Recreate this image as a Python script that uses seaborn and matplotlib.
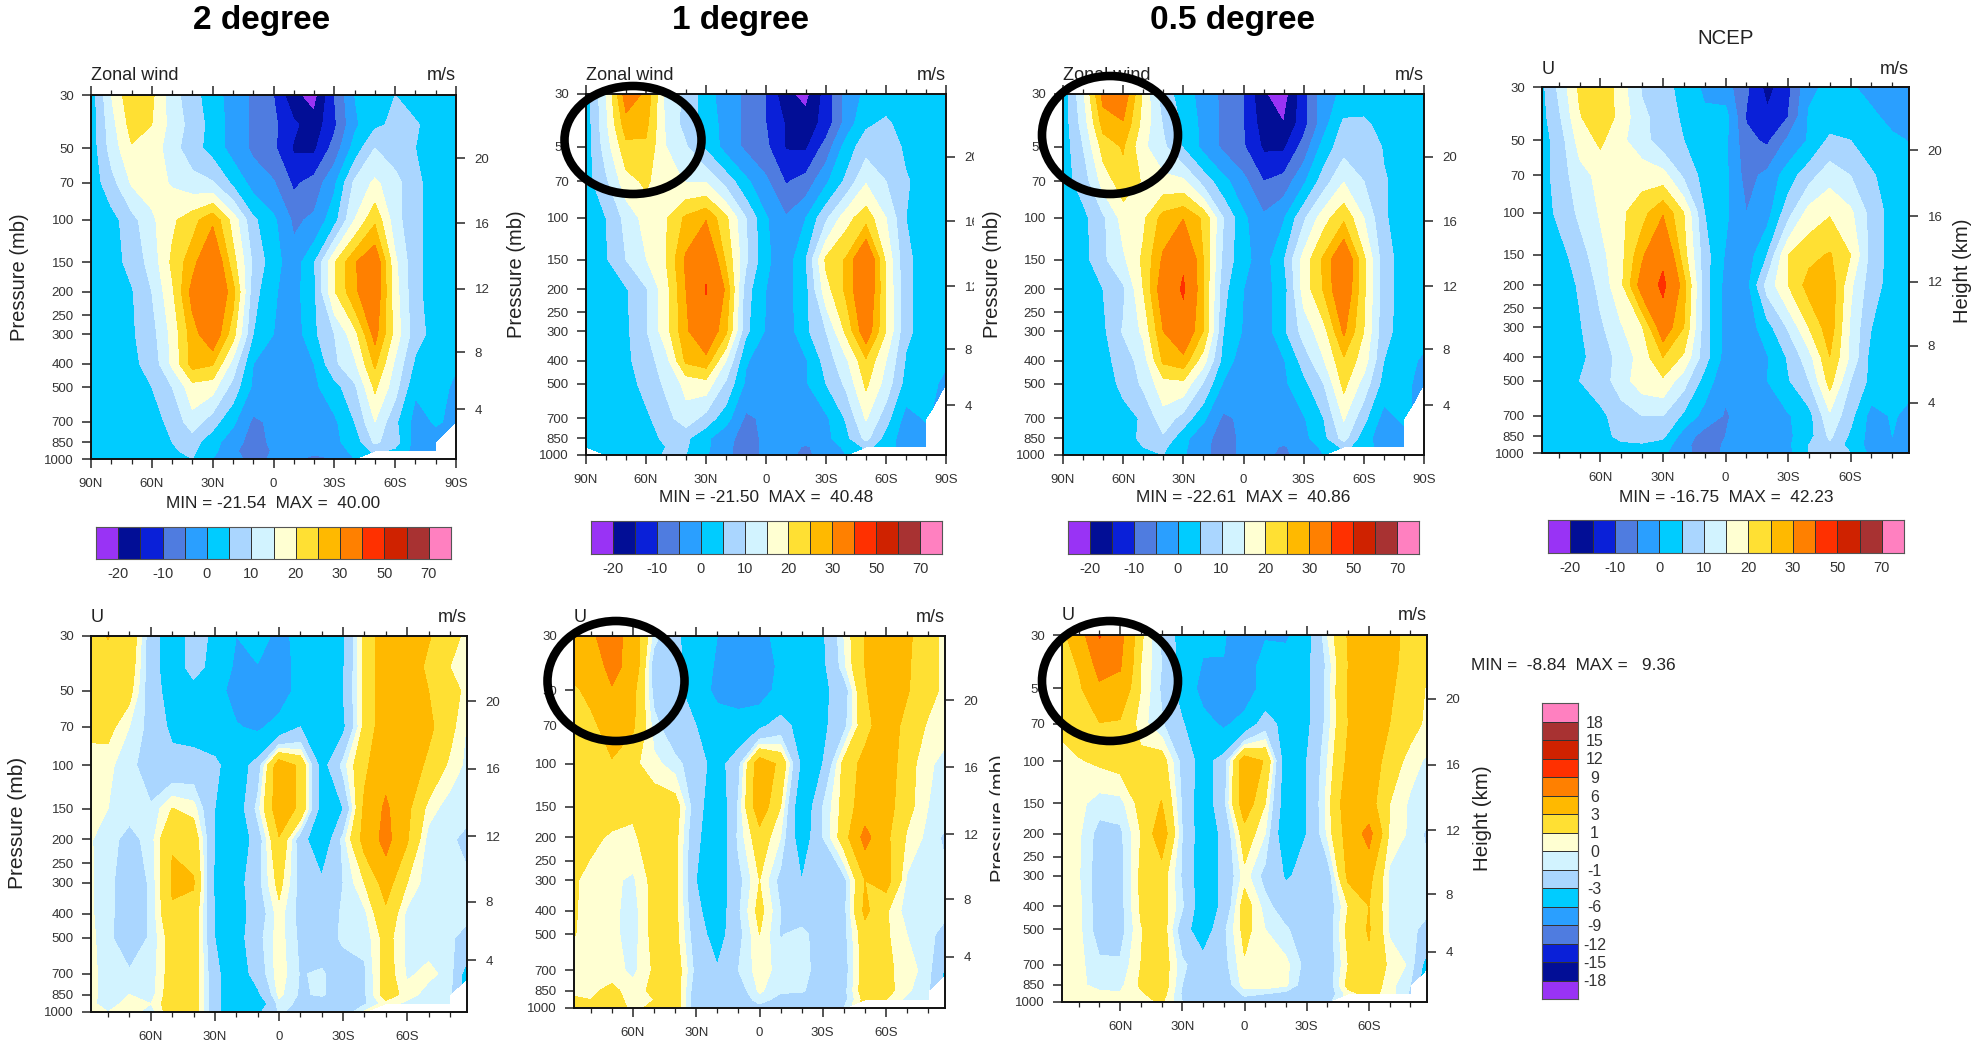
import numpy as np
import seaborn as sns
import matplotlib.pyplot as plt
from matplotlib.colors import ListedColormap
from matplotlib.patches import Ellipse
from matplotlib.ticker import NullLocator
from matplotlib.transforms import Bbox

W, H = 1988, 1045
n = float("nan")

lats = [90, 80, 70, 60, 50, 40, 30, 20, 10, 0, -10, -20, -30, -40, -50, -60, -70, -80, -90]
pressure = [30, 40, 50, 70, 100, 150, 200, 300, 400, 500, 700, 850, 925, 1000]

wind_2deg = [
    [2, 15, 24, 21, 12, 7, 2, -2, -6, -10, -19, -22, -10, 0, 5, 5, 3, 2, 1],
    [2, 13, 22, 20, 13, 8, 3, -2, -6, -9, -14, -18, -11, -1, 4, 6, 5.5, 3, 2],
    [2, 12, 19.5, 18, 12, 7, 3, -2, -6, -9, -15.6, -16, -8, 2, 10, 7, 5, 3, 2],
    [2, 8, 15.5, 17, 14.5, 12, 10.5, 4, -2, -4.5, -11, -8, -1, 11, 16, 12, 6, 3, 2],
    [1, 3, 8, 14, 19, 23, 29, 18, 6, 1, -6, -4, 3, 15, 24, 12, 6, 3, 2],
    [1, 3, 6.5, 12, 21, 28, 37, 22, 9, 2, -3, 4.5, 19.5, 29.5, 35, 16, 6, 3, 2],
    [1, 3, 4.5, 10, 19, 32, 38, 27, 7, 0.5, -2, 4, 19.5, 29, 35, 17, 6, 3, 2],
    [1, 3, 4.3, 8, 16.5, 27.5, 35, 22, 5, 0, -3, 4, 10, 18, 32, 18, 7, 3, 2],
    [1, 2.5, 4, 6.5, 16, 27, 25.5, 13, 0, -3, -3, 0, 9, 14, 26, 14, 4, 2, 0.5],
    [1, 2, 3, 5, 10, 18, 17, 8, -1, -4, -4, -1, 3, 9, 21, 12, 0.8, 2, -1],
    [2, 2, 2.5, 3.5, 6, 13, 7, 1, -6, -4, -3, -2, -1, 5, 15, 6, -2, 0.5, -1],
    [2, 2, 2, 3, 5, 7, 2, -3, -7, -4, -3, -3, -1, 2, 11, 7, -2, -2, n],
    [2, 2, 2, 3, 4.5, 6, 1, -3, -10.6, -4, -3, -4, -2, 1, 6, 4, -2, -2, n],
    [2, 2, 2, 3, 5, 5, 0, -3, -7, -4, -4.5, -6, -5, 0, n, n, n, n, n],
]

wind_1deg = [
    [2, 14.5, 33, 29, 13, 9, 2, -2.5, -6, -10, -19, -21.5, -13, -3, 1, 2, 2, 2, 2],
    [2, 14, 28, 26.5, 14, 8, 3, -2, -6, -10, -15.5, -18, -13, -3, 4, 6, 2.5, 2, 2],
    [2, 12.5, 23.5, 24, 15, 10.5, 4, -2, -6, -9, -15.4, -15.8, -8, 2, 8, 8, 4, 2, 2],
    [3, 9, 18, 21, 16, 14.8, 14.5, 8, 1, -4, -10.5, -8, -1, 6, 14.5, 10, 5.5, 3, 2],
    [1, 5, 11.5, 17, 19.5, 26, 29.5, 21, 10, 0.5, -4.5, 0, 9, 18, 23, 15, 5, 3, 2],
    [1, 4.5, 10, 14.8, 20, 31, 38, 24, 11, 1, -3, 5, 21, 25.5, 38, 19, 6, 3, 2],
    [1, 2.5, 4.5, 9.5, 18, 30, 40.5, 29, 7, 0, -2, 3.5, 18, 26, 37, 20, 6, 3, 2],
    [1, 2.5, 4, 9.5, 18, 29, 36, 26, 6, -0.5, -3, 4, 10, 21, 34, 20, 6, 3, 2],
    [1, 2.5, 4, 7.5, 13, 26, 28, 15, 0.5, -3, -3, -0.5, 7, 14, 24, 15, 4.5, 2, 0.5],
    [1, 2, 3, 6.5, 11, 16.5, 18, 9, -1, -4, -4, -0.5, 5, 11, 21, 13, 3, 1.5, -1],
    [2, 2, 2.5, 4, 8, 13, 8, 2, -6, -4, -3, -2, -1, 5.5, 15.5, 7, -2, 0.5, n],
    [2, 2, 2, 3, 6, 6, 1, -3.5, -7, -4, -3, -3, -1.5, 3.5, 11.5, 3, -3, -2, n],
    [2, 2, 2, 3, 5, 5.5, 1, -4, -7, -4, -3.5, -5.5, -3, 1, 6, 3, -3, -3, n],
    [n, 2, 2, 3, 5.5, 5, 0.5, -4, -7, -4, -4.5, -5.5, -4, 0, n, n, n, n, n],
]

wind_05deg = [
    [2, 14, 32, 34, 19, 7, 3, -2.5, -6, -10, -19.5, -22.6, -12, -2, 1, 2, 2, 2, 2],
    [2, 12, 27, 29.5, 18, 9.5, 4, -1.5, -6, -10, -17.5, -19.9, -12, -2, 6, 6, 3, 2, 2],
    [2, 10, 22, 25.5, 16, 11, 4.5, -1.5, -6, -9.5, -15.8, -16, -8, 2, 8, 9, 4.5, 2.5, 2],
    [3, 7, 17, 23, 19.5, 16.5, 16, 8, 1.5, -3.5, -10, -8, -1, 7.5, 14.8, 10, 5.5, 3, 2],
    [1, 3.5, 9, 17, 19, 27, 29.8, 24, 10, 1, -4, -0.5, 9, 18, 24, 15, 5.5, 3, 2],
    [1, 3, 9, 14, 21, 31, 39, 25, 8.5, 1.5, -2.5, 4.5, 17, 26, 37, 21, 7, 3, 2],
    [1, 2.5, 5, 9, 20, 34, 41, 25, 6.5, 0, -2, 2.5, 17, 25.5, 36, 21, 7, 3, 2],
    [1, 2.5, 4, 10.5, 16, 30, 36, 25, 5, -0.5, -3, 4, 12, 18, 31, 20, 6.5, 3, 2],
    [1, 2.5, 3.5, 7, 12.5, 26, 28, 17, 3, -3, -3, -0.5, 7, 14.7, 24, 17.5, 5, 2, -1],
    [1, 2, 3, 6, 11, 18, 18.5, 9.5, -0.5, -4, -4, -1, 3.5, 10, 21.5, 13, 3, 1, -1.5],
    [2, 2, 2.5, 3.5, 5.5, 13, 8, 1, -6, -4, -3, -2, -0.5, 5, 15.5, 6.5, -2, 1, n],
    [2, 2, 2, 3, 6, 9, 1.5, -3.5, -7, -4, -3, -3, -1.5, 3.5, 12, 2, -3, -2, n],
    [2, 2, 2, 3, 5, 6, 1, -4, -7, -4, -3.5, -5.5, -3, 1, 6, 3, -3, -3, n],
    [2, 2, 2, 3, 5, 5, 0.5, -4, -7, -4, -4.5, -5.5, -4, 0, n, n, n, n, n],
]

wind_ncep = [
    [2, 11, 21, 25, 17, 9.5, 7, 3, -1, -3, -9, -16.75, -11.5, -1, 1, 0.5, -1.5, -2, -2],
    [2, 9, 19.5, 24, 18, 11, 8, 4, 1, 2, -10.5, -14, -10, 0.5, 2.5, 2, 1, -1.5, -2.5],
    [2, 7, 17, 21, 16, 12, 7, 5, 2.5, 1, -8.5, -11, -4, 0.5, 6, 5, 3, 1, -0.5],
    [2, 7, 13, 16.5, 18, 18, 17, 9, 3, 1, -7, -3.5, 2.5, 8, 13, 10, 5.5, 3, 1],
    [2, 6, 11, 15.5, 19, 23, 29.5, 20, 5, 1, -5, -2, 8, 17, 19.5, 16, 8, 3, 1],
    [1, 3, 7.5, 13.5, 18.5, 29, 38, 22, 7, -0.5, -3, 5, 20, 23.5, 25.5, 20, 8, 3, 1],
    [1, 2.5, 5.5, 11.5, 19, 33, 42, 27, 7, -1.5, -2, 12, 20, 27, 28.5, 16, 7, 3, 1],
    [1, 2.5, 4.5, 9, 14.5, 19.5, 34, 25, 7, -1.5, -3, 3, 10.5, 20, 28, 14, 5, 3, 1],
    [1, 2.5, 4, 7, 12, 17, 25, 19, 7, -2, -3, -0.5, 5.5, 13, 24.9, 14, 3, 2, 1],
    [1, 2, 5, 7, 13, 17.5, 19, 12, 3, -4, -3, 0, 4.5, 10, 22, 10, 3.5, 2, 1],
    [1, 1, 3, 4, 7, 10, 10, 4, -2, -5.5, -3, -2, -0.5, 3, 14, 6.5, -2, 0.5, -1.5],
    [2, 2, 2, 3, 6.5, 7, 6, -2.5, -7, -5, -3, -2.5, -1, 3, 11, 4, -2, 0, -2],
    [2, 2, 2, 2.5, 4, 4.5, 3, -4, -7, -4.5, -3, -3, -1, 5, 9, 3, -2, 0, -2],
    [2, 2, 2, 2, 3, 3, 1, -4, -6.5, -4.5, -3, -3, -1.5, 5, 7, 5, -1.5, 0, -2],
]

diff_2deg = [
    [2.5, 3.05, 2.5, -2, -4.5, -2, -3.5, -6, -4.5, -7, -5, -4, -3.3, 1.5, 4.5, 4.5, 3.2, 1.5, 0.5],
    [2.5, 2.5, 2, -2, -4.5, -2, -4, -6.5, -6.2, -7.5, -5, -4, -3.2, 1.5, 4.5, 4.5, 2.5, 1, 0.5],
    [2, 2, 1.5, -2, -4, -4, -5, -7, -7.5, -7.5, -5, -4, -3, 1.5, 4.5, 4.5, 3, 1.5, 0.5],
    [1.3, 1.5, 0, -1.5, -3.5, -4, -4.5, -5.8, -6.5, -5, -3, -4, -3.5, 1.5, 4.5, 4.5, 3.5, 1.5, -0.5],
    [0.5, 0.2, -0.5, -2, -2.2, -2, -2.5, -4.5, -2, 4.5, 2.5, -4, -0.5, 2.5, 5, 4.5, 2.5, 0.7, -0.5],
    [0.3, 0, -0.5, -0.8, 1.05, 0.5, -3, -4.5, -0.5, 4.5, 2.5, -4, -3, 3.5, 6.5, 3.5, 0.5, -0.6, -0.7],
    [0.2, -0.5, -1.5, -0.5, 2.9, 2.2, -3, -4.8, -2, 2.8, -2, -5, -0.5, 3.8, 7, 3.2, -0.5, -0.8, -1.5],
    [0.3, -0.6, -2, -0.8, 3.2, 3.2, -3.5, -4, -1.5, 1.5, -1.5, -2.5, -1, 1, 4, 1, -0.7, -0.7, -0.9],
    [0.3, -0.6, -2, -0.8, 2.8, 2.2, -3, -4, -2, 0.5, -1.5, -2, -0.8, -0.3, 2.5, -0.3, -0.7, -0.7, -0.7],
    [0.5, -0.7, -2, -0.8, 1.8, 2.2, -3, -4, -1.5, 0.5, -1.3, -2, -0.7, -0.7, 1.6, -0.2, -0.5, -0.7, -2],
    [0.5, -0.5, -0.8, -0.6, 1.8, 2.2, -2.5, -4.5, -2, 0.6, -1.1, -0.8, -2, -1.2, 1.8, -0.2, 0.3, -0.4, -5],
    [0.5, -0.5, 0, -0.5, 2, 2.2, -2.5, -4.5, -3.5, 0.3, -1.2, -0.8, -2, -1.2, 1.8, 0.5, -0.5, -0.7, n],
    [0.5, -0.6, 0.5, 0, 2, 2.2, -2.5, -4.5, -5, -0.5, -1.3, -2, -2, -1.2, 0.5, -0.3, -0.5, -0.7, n],
    [0.5, 0, 0.5, -0.5, 2, 2.2, -2.5, -4.5, -3.5, -0.8, -1.5, -2, -2, 0.2, n, n, n, n, n],
]

diff_1deg = [
    [4, 5.5, 7.5, 4.5, -0.5, -2.5, -4.5, -6, -6.5, -7.5, -4.5, -4, -3.3, 0, 3, 4.5, 3.5, 1.5, 0.5],
    [3.5, 4.5, 6.8, 5, -2, -2.5, -4, -6.5, -6.8, -7.5, -5.5, -4, -3.5, -0.3, 3, 4.5, 3.3, 1.5, 0.5],
    [2.5, 3.5, 5.8, 3.7, -1.5, -2, -5, -6.5, -7, -7.5, -5, -4, -3.5, -2, 2.8, 4.5, 3.2, 1.5, 0.5],
    [2, 2.5, 4, 3.3, -0.5, -2.3, -3, -5, -5, -3.5, -2, -4, -3.5, -1.5, 2.2, 4.5, 2.2, 0.8, 0.3],
    [2, 2.3, 2.8, 1.3, 0.3, -0.5, -2, -4, -1.5, 4.5, 2.5, -3.5, -3, 1.5, 3.8, 4.5, 1.6, 0.2, -0.5],
    [2, 2, 2, 1.2, 2, 1.8, -2, -5, -0.8, 4.5, 1, -5, -1, 1.5, 4.5, 4, 1.5, 0, -0.5],
    [2, 1.5, 0.7, 0.8, 1.7, 1.5, -2.5, -5, -0.7, 2, 0, -4.5, -1, 1.8, 7, 3.5, 0.8, -0.3, -1.5],
    [1.5, 0.3, 0.2, -0.2, 1.5, 1.6, -3, -4.5, -1.5, 1, -1.5, -3, -2.5, -1.5, 3, 4, -0.2, -0.6, -1],
    [1.3, 0.5, 0.3, -0.5, 1.5, 1.5, -2.5, -4.5, -1.2, 1.5, -1, -2, -2, -1.5, 3.5, 1.2, -0.5, -0.8, -0.8],
    [1.2, 0.5, 0.3, -0.5, 1.5, 1.5, -2, -4, -1.5, 1, -1.1, -0.5, -2, -1.5, 2, 1.2, 0, -0.5, -2],
    [0.5, 0.5, 0.5, -0.3, 1.2, 2, -1.5, -2.8, -1, 0.5, -0.4, -0.3, -2, -1.8, 2, 1.3, 0.5, -0.5, -4],
    [0.8, 0.8, 1.3, 0.5, 1.3, 2, -2, -2.3, -1.8, 0.2, -0.8, -0.8, -2, -1.5, 2, 1.5, 0.2, -0.8, n],
    [1.2, 1, 1.5, 0.6, 1, 2, -2, -2.5, -2, -0.5, -1.5, -2, -2, -1.5, 1.5, 1, -0.3, -1, n],
    [1.3, 1.2, 1.5, 0.8, 1.2, 2, -2, -2.5, -2, -1.5, -2, -2, -2, -1, n, n, n, n, n],
]

diff_05deg = [
    [2, 4.5, 9.2, 7, 1.3, -1.2, -4, -5.5, -5.8, -7.5, -6.2, -6.5, -4, 0, 3.2, 4.5, 4, 2, 1],
    [1.5, 3.2, 7, 6.3, 1, -1, -4, -6.2, -6.1, -7.5, -5, -4.5, -3.5, -0.7, 3, 4.5, 3.8, 1.8, 0.8],
    [1.3, 2.5, 5.5, 5, 1, -1.2, -4, -7, -7.8, -7.5, -5, -4, -3.5, -0.5, 3.2, 4.5, 3.4, 1.7, 0.7],
    [1.2, 1.7, 2.9, 2.7, 0.4, -0.8, -2.8, -5, -6.5, -5, -1.8, -4, -3.5, -0.5, 3, 4.5, 3, 1.6, 0.5],
    [0.5, 0.9, 1.2, 1.5, 1.5, 1.8, -1.5, -4, -2, 4.5, 2.8, -4.5, -3, 0, 3.5, 4.5, 2, 0.4, -0.3],
    [0.4, 0.3, -0.5, -0.4, 1.5, 3.1, -1.2, -4.5, -1.5, 4.5, 1, -4.5, -3, 0.4, 4.5, 4, 1, -0.2, -0.5],
    [0.4, 0.2, -1.5, -1.3, 1, 4.5, -1, -4.5, -2.5, 2, 0, -5, -3, 0.2, 4, 7, 0.7, -0.2, -1.5],
    [0.3, 0.1, -1.7, -1.5, 1.3, 1.8, -1.2, -4.5, -2.5, 0.5, -1.5, -3.2, -2.5, -2, 3.5, 3.7, -0.3, -0.8, -1],
    [0.5, 0.3, -1.7, -1.5, 1.2, 1.8, -0.8, -4.5, -2.5, 1.8, -0.5, -2, -2, -2, 1, 3, -0.2, -0.7, -0.7],
    [0.5, 0.3, -1.7, -1.6, 0.9, 2, -2, -4.5, -1.3, 1.5, 0, -0.8, -2, -2, 1.5, 3.2, -0.2, -0.5, -2],
    [0.5, 0.3, -0.7, -0.8, 1, 2, -0.7, -2, -1.5, 0.8, 0.5, 0.3, -1.5, -2, 1, 2.5, 0.7, -0.2, -5],
    [0.6, 0.2, -0.3, -0.3, 1.2, 2, -1, -2.5, -2, 0.5, 0.7, 0.2, -2, -2, 1.5, 2, 0.4, -1, n],
    [1, 0.5, 0.2, 0.1, 0.8, 1.7, -1.2, -2.5, -2, -0.8, -1, -1.5, -2, -2, 0.5, 1.5, 0.5, -1.2, n],
    [1, 0.6, 0.3, 0.3, 0.5, 1.2, -1, -2.5, -2.2, -1.5, -1.3, -1.5, -2, -1.5, n, n, n, n, n],
]

wind_levels = [-20, -15, -10, -5, 0, 5, 10, 15, 20, 25, 30, 40, 50, 60, 70]
diff_levels = [-18, -15, -12, -9, -6, -3, -1, 0, 1, 3, 6, 9, 12, 15, 18]
wind_bar_labels = ["-20", "-10", "0", "10", "20", "30", "50", "70"]
diff_bar_labels = ["18", "15", "12", "9", "6", "3", "1", "0", "-1", "-3", "-6", "-9", "-12", "-15", "-18"]
band_colors = ["#9933f5", "#020e96", "#0a20d8", "#4f7ce0", "#2a9fff", "#00ccff", "#aad6ff", "#d2f3ff",
               "#ffffd2", "#ffe033", "#ffb900", "#ff8000", "#ff3000", "#cf2200", "#a83232", "#ff80c0"]

p_ticks = [30, 50, 70, 100, 150, 200, 250, 300, 400, 500, 700, 850, 1000]
height_ticks = [4, 8, 12, 16, 20]
height_at_p = [618, 358, 194, 103.4, 55.1]
lat_ticks = [90, 60, 30, 0, -30, -60, -90]
lat_labels = ["90N", "60N", "30N", "0", "30S", "60S", "90S"]

# pixel boxes: left, top, right, bottom
panels = [
    dict(data=wind_2deg, box=(91, 95, 456, 459), levels=wind_levels, lim=90, name="Zonal wind", name_y=76,
         ylabel=(20, 277, 14.5), stats=("MIN = -21.54  MAX =  40.00", 273, 503), bar=(96, 527, 451, 559)),
    dict(data=wind_1deg, box=(586, 94, 946, 455), levels=wind_levels, lim=90, name="Zonal wind", name_y=76,
         ylabel=(516, 274, 14.5), stats=("MIN = -21.50  MAX =  40.48", 766, 497), bar=(591, 521, 942, 554), clip_right=974),
    dict(data=wind_05deg, box=(1063, 94, 1424, 455), levels=wind_levels, lim=90, name="Zonal wind", name_y=76,
         ylabel=(993, 274, 14.5), stats=("MIN = -22.61  MAX =  40.86", 1243, 497), bar=(1068, 521, 1419, 554)),
    dict(data=wind_ncep, box=(1542, 87, 1909, 453), levels=wind_levels, lim=88, name="U", name_y=69,
         stats=("MIN = -16.75  MAX =  42.23", 1726, 497), bar=(1548, 520, 1904, 553)),
    dict(data=diff_2deg, box=(91, 636, 467, 1012), levels=diff_levels, lim=88, name="U", name_y=617,
         ylabel=(18, 823, 15)),
    dict(data=diff_1deg, box=(574, 636, 945, 1008), levels=diff_levels, lim=88, name="U", name_y=617),
    dict(data=diff_05deg, box=(1062, 635, 1427, 1002), levels=diff_levels, lim=88, name="U", name_y=616),
]
rings = [(633, 140, 137, 108), (1110, 135, 136, 118), (616, 681, 137, 120), (1110, 681, 136, 120)]

sns.set_style("ticks")
plt.rcParams["font.family"] = ["Liberation Sans", "DejaVu Sans"]
text_color = "#222222"

fig = plt.figure(figsize=(W / 100, H / 100), dpi=100)


def box_axes(left, top, right, bottom):
    return fig.add_axes([left / W, 1 - bottom / H, (right - left) / W, (bottom - top) / H])


def put_text(x, y, s, size, ha="center", **kw):
    return fig.text(x / W, 1 - y / H, s, fontsize=size, ha=ha, va="center", color=kw.pop("color", text_color), **kw)


def frame_bar(cax):
    for sp in cax.spines.values():
        sp.set_visible(True)
        sp.set_linewidth(0.8)
        sp.set_color("#555555")


for p in panels:
    left, top, right, bottom = p["box"]
    ax = box_axes(left, top, right, bottom)
    ax.contourf(lats, pressure, np.array(p["data"], dtype=float), levels=p["levels"], colors=band_colors, extend="both")
    ax.set_yscale("log")
    ax.set_ylim(1000, 30)
    ax.set_xlim(p["lim"], -p["lim"])

    ax.set_yticks(p_ticks)
    ax.set_yticklabels([str(v) for v in p_ticks])
    ax.yaxis.set_minor_locator(NullLocator())
    keep = [(t, s) for t, s in zip(lat_ticks, lat_labels) if abs(t) <= p["lim"]]
    ax.set_xticks([t for t, s in keep])
    ax.set_xticklabels([s for t, s in keep])
    ax.set_xticks([t for t in lats if t % 30 != 0 and abs(t) <= p["lim"]], minor=True)
    ax.tick_params(axis="both", which="major", direction="out", length=6.8, width=1.1, labelsize=9.5,
                   pad=5.5, top=True, labelcolor="#333333")
    ax.tick_params(axis="x", which="minor", direction="out", length=3.6, width=0.9, top=True)
    ax.tick_params(axis="x", which="major", pad=7)

    ax2 = ax.twinx()
    ax2.set_yscale("log")
    ax2.set_ylim(1000, 30)
    ax2.set_yticks(height_at_p)
    ax2.set_yticklabels([str(v) for v in height_ticks])
    ax2.yaxis.set_minor_locator(NullLocator())
    ax2.tick_params(axis="y", direction="out", length=6.8, width=1.1, labelsize=9.5, pad=6.5, labelcolor="#333333")
    if "clip_right" in p:
        for lab in ax2.get_yticklabels():
            lab.set_clip_on(True)
            lab.set_clip_box(Bbox([[0, 0], [p["clip_right"], H]]))
    for a in (ax, ax2):
        for sp in a.spines.values():
            sp.set_linewidth(1.2)
            sp.set_color("#111111")

    put_text(left, p["name_y"], p["name"], 13, ha="left")
    put_text(right, p["name_y"], "m/s", 13, ha="right")
    if "ylabel" in p:
        x, y, size = p["ylabel"]
        put_text(x, y, "Pressure (mb)", size, rotation=90)
    if "stats" in p:
        s, x, y = p["stats"]
        put_text(x, y, s, 12.4)
    if "bar" in p:
        b_left, b_top, b_right, b_bottom = p["bar"]
        cax = box_axes(b_left, b_top, b_right, b_bottom)
        sns.heatmap([list(range(16))], cmap=ListedColormap(band_colors), cbar=False, ax=cax,
                    linewidths=0.7, linecolor="#333333")
        cax.set_xticks(range(1, 16, 2))
        cax.set_xticklabels(wind_bar_labels, rotation=0)
        cax.set_yticks([])
        cax.tick_params(axis="x", length=0, labelsize=10.5, pad=6, labelcolor="#333333")
        frame_bar(cax)

# titles over the columns
put_text(262, 21, "2 degree", 24, weight="bold", color="black")
put_text(741, 21, "1 degree", 24, weight="bold", color="black")
put_text(1232, 21, "0.5 degree", 24, weight="bold", color="black")
put_text(1726, 38, "NCEP", 14.7)
put_text(1962, 271, "Height (km)", 14.6, rotation=90)

# the difference row shares one colour key
put_text(1573, 666, "MIN =  -8.84  MAX =   9.36", 12.4)
put_text(1482, 818, "Height (km)", 14.8, rotation=90)
cax = box_axes(1542, 703, 1578, 999)
sns.heatmap([[v] for v in range(15, -1, -1)], cmap=ListedColormap(band_colors), cbar=False, ax=cax,
            linewidths=0.7, linecolor="#333333")
cax.set_xticks([])
cax.set_yticks(range(1, 16))
cax.set_yticklabels(diff_bar_labels, rotation=0, ha="center")
cax.tick_params(axis="y", length=0, labelsize=11.5, pad=12, labelleft=False, labelright=True, labelcolor="#333333")
frame_bar(cax)

# label cropped by the next panel in the original layout
cut = put_text(1000, 818, "Pressure (mb)", 14.5, rotation=90)
cut.set_clip_on(True)
cut.set_clip_box(Bbox([[0, 0], [1000, H]]))

for cx, cy, w, h in rings:
    fig.add_artist(Ellipse((cx / W, 1 - cy / H), w / W, h / H, transform=fig.transFigure, fill=False,
                           edgecolor="black", linewidth=6.2, zorder=10))

fig.savefig("out.png", dpi=100)
